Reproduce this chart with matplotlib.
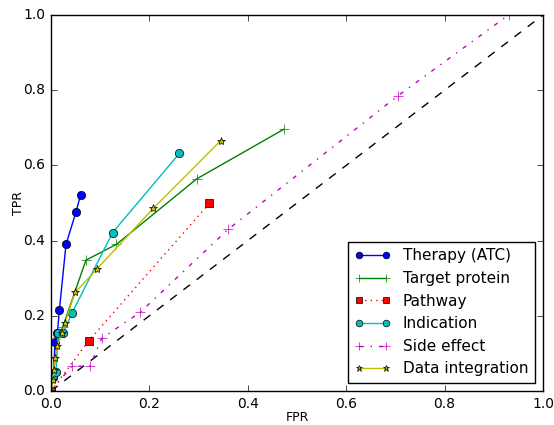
import matplotlib
matplotlib.use('Agg')
import matplotlib.pyplot as plt

# ROC curves per data source
therapy_fpr = [0, 0.005, 0.008, 0.013, 0.017, 0.0305, 0.051, 0.060]
therapy_tpr = [0, 0.038, 0.130, 0.155, 0.215, 0.390, 0.477, 0.521]

target_fpr = [0, 0.005, 0.015, 0.024, 0.071, 0.133, 0.296, 0.473]
target_tpr = [0, 0.050, 0.144, 0.171, 0.348, 0.390, 0.564, 0.696]

pathway_fpr = [0, 0.077, 0.322]
pathway_tpr = [0, 0.134, 0.499]

indication_fpr = [0, 0.005, 0.010, 0.015, 0.025, 0.043, 0.125, 0.261]
indication_tpr = [0, 0.040, 0.051, 0.155, 0.155, 0.208, 0.421, 0.632]

side_fpr = [0, 0.042, 0.079, 0.103, 0.181, 0.360, 0.705, 0.930]
side_tpr = [0, 0.066, 0.066, 0.140, 0.209, 0.430, 0.785, 1.000]

integ_fpr = [0, 0.005, 0.006, 0.008, 0.013, 0.022, 0.028, 0.049, 0.093, 0.208, 0.345]
integ_tpr = [0, 0.029, 0.056, 0.087, 0.120, 0.153, 0.180, 0.262, 0.324, 0.486, 0.666]


def main():
    plt.style.use('classic')

    fig = plt.figure(figsize=(5.54, 4.25), dpi=100, facecolor='white')
    ax = fig.add_axes([51 / 554, 34 / 425, 492 / 554, 376 / 425])

    ax.plot([0, 1], [0, 1], 'k--', lw=1)
    ax.plot(therapy_fpr, therapy_tpr, 'b-o', ms=6, mec='k', mew=0.5,
            label='Therapy (ATC)')
    ax.plot(target_fpr, target_tpr, 'g-+', ms=7, label='Target protein')
    ax.plot(pathway_fpr, pathway_tpr, 'r:s', ms=6, mec='k', mew=0.5,
            label='Pathway')
    ax.plot(indication_fpr, indication_tpr, 'c-o', ms=6, mec='k', mew=0.5,
            label='Indication')
    ax.plot(side_fpr, side_tpr, 'm-.+', ms=7, label='Side effect')
    ax.plot(integ_fpr, integ_tpr, 'y-*', ms=6, mec='k', mew=0.5,
            label='Data integration')

    ax.set_xlim(0, 1)
    ax.set_ylim(0, 1)
    ax.set_xlabel('FPR', fontsize=9)
    ax.set_ylabel('TPR', fontsize=9)
    # pin the axis labels where the reference has them
    ax.xaxis.set_label_coords(0.5, -0.053)
    ax.yaxis.set_label_coords(-0.053, 0.5)
    ax.tick_params(labelsize=10)

    ax.legend(loc='lower right', numpoints=2, fontsize=11,
              borderaxespad=0.55, handlelength=2.4, markerscale=0.8)

    fig.savefig('out.png', dpi=100, facecolor='white')


if __name__ == '__main__':
    main()
